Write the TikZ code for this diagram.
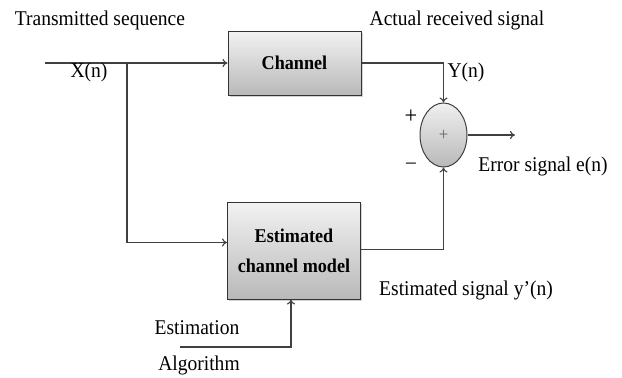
\documentclass[tikz,border=0pt]{standalone}
\usepackage{fontspec}
\setmainfont{Liberation Serif}[FakeStretch=0.93]
\usetikzlibrary{shapes.geometric,shadows,arrows.meta}

\tikzset{
  blk/.style={draw=black!80, line width=1pt, top color=gray!10, bottom color=gray!55,
    minimum width=133pt, align=center, font=\fontsize{19.5}{30}\selectfont\bfseries,
    drop shadow={shadow xshift=1.5pt, shadow yshift=-1.5pt, opacity=0.35}},
  summer/.style={ellipse, draw=black!75, line width=1pt, top color=gray!12, bottom color=gray!55,
    minimum width=47pt, minimum height=64pt, inner sep=0pt},
  sig/.style={draw=black!75, line width=1.1pt, -{To[length=5pt,width=8pt]}}
}

\begin{document}
\begin{tikzpicture}[x=1pt,y=-1pt, font=\fontsize{21}{24}\selectfont]
  \useasboundingbox (0,0) rectangle (622,378);
  % blocks
  \node[blk, minimum height=64pt] (channel) at (294.5,63) {Channel};
  \node[blk, minimum height=97pt] (model) at (294,250.5) {Estimated\\channel model};
  \node[summer] (sum) at (443.5,135) {\fontsize{18}{18}\selectfont\color{black!60}+};
  % free ends
  \coordinate (xin) at (45,63);
  \coordinate (split) at (127,63);
  \coordinate (eout) at (515,135);
  \coordinate (algin) at (180,347);
  % signals
  \draw[sig] (xin) -- (channel.west);
  \draw[sig] (split) |- ([yshift=8pt]model.west);
  \draw[sig] (channel.east) -| (sum.north);
  \draw[sig] ([yshift=1pt]model.east) -| (sum.south);
  \draw[sig] (sum.east) -- (eout);
  \draw[sig] (algin) -| ([xshift=-3pt]model.south);
  % labels
  \node (txlabel) at (100,20) {Transmitted sequence};
  \node (xlabel) at (89,72) {X(n)};
  \node (rxlabel) at (457,20) {Actual received signal};
  \node (ylabel) at (466,72) {Y(n)};
  \node (plus) at (411,117) {\fontsize{24}{24}\selectfont +};
  \node (minus) at (411,166) {\textendash};
  \node (errlabel) at (543,166) {Error signal e(n)};
  \node (estlabel) at (466,290) {Estimated signal y’(n)};
  \node (alglabel1) at (197,328) {Estimation};
  \node (alglabel2) at (199,365) {Algorithm};
\end{tikzpicture}
\end{document}
